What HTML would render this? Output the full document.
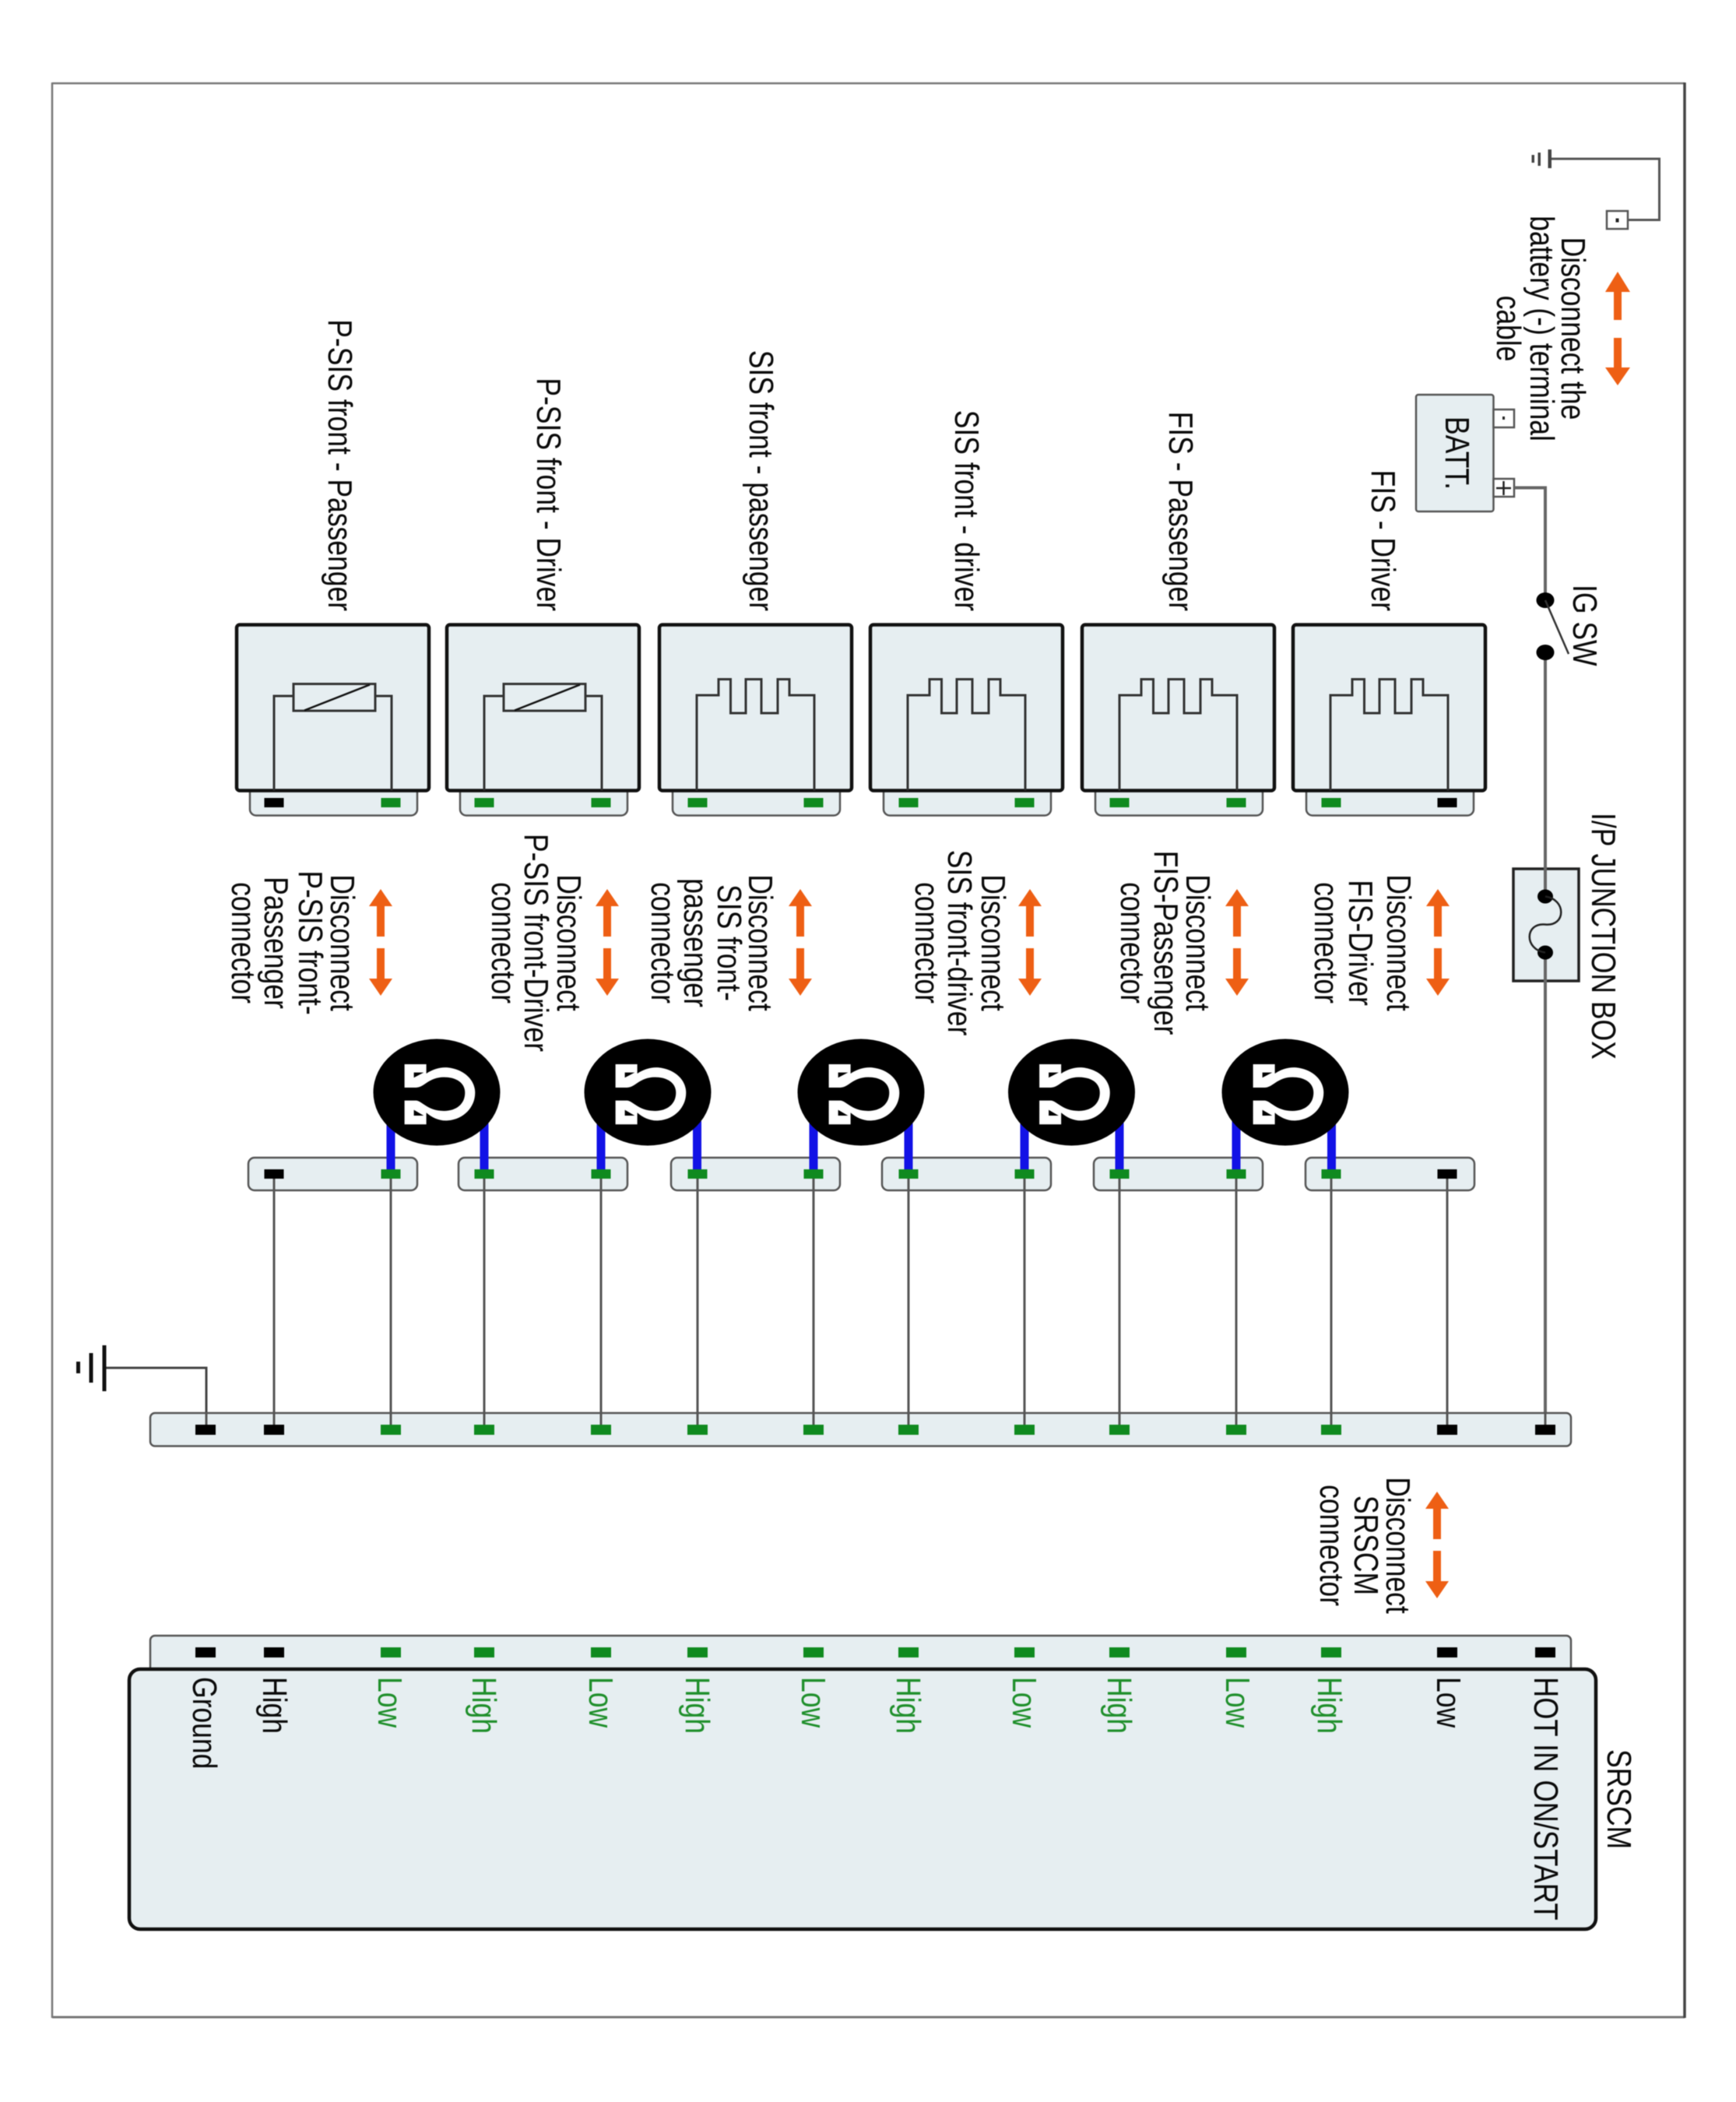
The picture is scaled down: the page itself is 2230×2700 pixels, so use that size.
<!DOCTYPE html>
<html>
<head>
<meta charset="utf-8">
<style>
html,body{margin:0;padding:0;background:#fff}
svg{display:block;filter:blur(.5px)}
text{font-family:"Liberation Sans",sans-serif;font-size:35.5px;fill:#0a0a0a}
.m{text-anchor:middle}
.e{text-anchor:end}
.g{fill:#1f8f2b}
.f{fill:#e6eef1}
.bar{fill:#e6eef1;stroke:#555;stroke-width:2.5}
.box{fill:#e6eef1;stroke:#111;stroke-width:4.5}
.w{fill:none;stroke:#555;stroke-width:3}
.d{fill:none;stroke:#333;stroke-width:3}
.pg{fill:#0f8a1f}
.pk{fill:#000}
.ar{fill:#ee5f14}
.bl{fill:#1212e6}
</style>
</head>
<body>
<svg xmlns="http://www.w3.org/2000/svg" width="2230" height="2700" viewBox="0 0 2230 2700">
<defs>
<g id="ar">
<polygon class="ar" points="0,0 15,22 5,22 5,61 -5,61 -5,22 -15,22"/>
<polygon class="ar" points="0,137 15,115 5,115 5,76 -5,76 -5,115 -15,115"/>
</g>
<path id="sq" class="d" d="M48 1015V893H76V872.5H91.5V916H111V872.5H131V916H152V872.5H167V893H199V1015"/>
<g id="rs">
<path class="d" d="M48 1015V894H73M178 894H199V1015"/>
<rect class="d" x="73" y="878.5" width="105" height="34.5"/>
<line x1="87" y1="912.5" x2="171" y2="879.5" stroke="#111" stroke-width="2.5"/>
</g>
<g id="om">
<ellipse cx="0" cy="0" rx="81.5" ry="68.5" fill="#000"/>
<g transform="translate(-90.7,-82.7) scale(.3333)">
<path fill="#fff" d="M148 140H232V176C258 158 290 150 315 153C377 160 420 200 420 250C420 305 377 352 315 357C285 360 255 347 232 327V372H148V280H192C215 280 235 320 300 320C348 320 381 293 381 250C381 212 348 190 300 190C240 190 225 230 192 230H148Z"/>
<path fill="#000" d="M184 172H222L184 192ZM184 338H222L184 316Z"/>
</g>
</g>
</defs>
<rect width="2230" height="2700" fill="#fff"/>

<!-- frame -->
<line x1="67" y1="107" x2="2164" y2="107" stroke="#777" stroke-width="2.5"/>
<line x1="67" y1="2591" x2="2164" y2="2591" stroke="#777" stroke-width="3"/>
<line x1="67" y1="106" x2="67" y2="2592" stroke="#777" stroke-width="2.5"/>
<line x1="2164" y1="106" x2="2164" y2="2592" stroke="#444" stroke-width="3.5"/>

<!-- top right ground -->
<path class="w" d="M1991 204H2131.5V282.5H2091"/>
<rect x="1988.5" y="192" width="4.5" height="24" fill="#444"/>
<rect x="1975.5" y="196" width="3.5" height="17" fill="#444"/>
<rect x="1967.5" y="199" width="3.5" height="10" fill="#444"/>
<rect x="2064" y="271" width="27" height="23" fill="#fff" stroke="#555" stroke-width="2.5"/>
<rect x="2075.5" y="280.5" width="4" height="5" fill="#222"/>

<!-- battery arrows -->
<polygon class="ar" points="2078,349 2094,375 2083,375 2083,411 2073,411 2073,375 2062,375"/>
<polygon class="ar" points="2078,495 2094,472 2083,472 2083,434 2073,434 2073,472 2062,472"/>
<text class="m" transform="translate(2006,422) rotate(90) scale(1,1.22)">Disconnect the</text>
<text class="m" transform="translate(1966,422) rotate(90) scale(1,1.22)">battery (-) terminal</text>
<text class="m" transform="translate(1923,422) rotate(90) scale(1,1.22)">cable</text>

<!-- battery -->
<rect x="1819" y="507" width="99.5" height="150" rx="3" class="bar"/>
<rect x="1918.5" y="526" width="26.5" height="23" fill="#fff" stroke="#555" stroke-width="2.5"/>
<rect x="1918.5" y="615" width="26.5" height="23" fill="#fff" stroke="#555" stroke-width="2.5"/>
<rect x="1930" y="535" width="3" height="4" fill="#222"/>
<path d="M1931.5 618V636M1922 627H1941" stroke="#222" stroke-width="2.5" fill="none"/>
<text class="m" transform="translate(1857,582) rotate(90) scale(1,1.22)">BATT.</text>

<!-- power line -->
<rect x="1944" y="1116" width="84" height="144" fill="#e6eef1" stroke="#222" stroke-width="3.5"/>
<path class="w" style="stroke:#666;stroke-width:4" d="M1945 626.5H1985V771M1985 838V1151.5M1985 1223.5V1836"/>
<ellipse cx="1985" cy="771" rx="11.5" ry="10" fill="#000"/>
<ellipse cx="1985" cy="838" rx="11.5" ry="10" fill="#000"/>
<line x1="1985" y1="771" x2="2015" y2="840" stroke="#333" stroke-width="2.5"/>
<ellipse cx="1985" cy="1151.5" rx="10" ry="9" fill="#000"/>
<ellipse cx="1985" cy="1223.5" rx="10" ry="9" fill="#000"/>
<path d="M1985 1151.5C2012 1155 2012 1190 1985 1187.5C1958 1185 1958 1220 1985 1223.5" fill="none" stroke="#222" stroke-width="2.5"/>
<text transform="translate(2021,751) rotate(90) scale(1,1.22)">IG SW</text>
<text transform="translate(2045,1044) rotate(90) scale(1,1.22)">I/P JUNCTION BOX</text>

<!-- top labels -->
<text class="e" transform="translate(422,785) rotate(90) scale(1,1.22)">P-SIS front - Passenger</text>
<text class="e" transform="translate(690,785) rotate(90) scale(1,1.22)">P-SIS front - Driver</text>
<text class="e" transform="translate(963,785) rotate(90) scale(1,1.22)">SIS front - passenger</text>
<text class="e" transform="translate(1227,785) rotate(90) scale(1,1.22)">SIS front - driver</text>
<text class="e" transform="translate(1502,785) rotate(90) scale(1,1.22)">FIS - Passenger</text>
<text class="e" transform="translate(1762,785) rotate(90) scale(1,1.22)">FIS - Driver</text>

<!-- top connector bars -->
<rect class="bar" x="321" y="990" width="215" height="57.5" rx="8"/>
<rect class="bar" x="591" y="990" width="215" height="57.5" rx="8"/>
<rect class="bar" x="864" y="990" width="215" height="57.5" rx="8"/>
<rect class="bar" x="1135" y="990" width="215" height="57.5" rx="8"/>
<rect class="bar" x="1407" y="990" width="215" height="57.5" rx="8"/>
<rect class="bar" x="1678" y="990" width="215" height="57.5" rx="8"/>

<!-- component boxes -->
<rect class="box" x="304" y="802.5" width="247" height="213" rx="4"/>
<rect class="box" x="574" y="802.5" width="247" height="213" rx="4"/>
<rect class="box" x="847" y="802.5" width="247" height="213" rx="4"/>
<rect class="box" x="1118" y="802.5" width="247" height="213" rx="4"/>
<rect class="box" x="1390" y="802.5" width="247" height="213" rx="4"/>
<rect class="box" x="1661" y="802.5" width="247" height="213" rx="4"/>
<use href="#rs" x="304"/>
<use href="#rs" x="574"/>
<use href="#sq" x="847"/>
<use href="#sq" x="1118"/>
<use href="#sq" x="1390"/>
<use href="#sq" x="1661"/>

<!-- pads in top bars -->
<rect class="pk" x="339.5" y="1025" width="25" height="12"/>
<rect class="pg" x="489.5" y="1025" width="25" height="12"/>
<rect class="pg" x="609.5" y="1025" width="25" height="12"/>
<rect class="pg" x="759.5" y="1025" width="25" height="12"/>
<rect class="pg" x="883.5" y="1025" width="25" height="12"/>
<rect class="pg" x="1032.5" y="1025" width="25" height="12"/>
<rect class="pg" x="1154.5" y="1025" width="25" height="12"/>
<rect class="pg" x="1303.5" y="1025" width="25" height="12"/>
<rect class="pg" x="1425.5" y="1025" width="25" height="12"/>
<rect class="pg" x="1575.5" y="1025" width="25" height="12"/>
<rect class="pg" x="1697.5" y="1025" width="25" height="12"/>
<rect class="pk" x="1846.5" y="1025" width="25" height="12"/>

<!-- disconnect arrows -->
<use href="#ar" x="489" y="1142"/>
<use href="#ar" x="780" y="1142"/>
<use href="#ar" x="1028" y="1142"/>
<use href="#ar" x="1323" y="1142"/>
<use href="#ar" x="1589" y="1142"/>
<use href="#ar" x="1847" y="1142"/>

<!-- disconnect texts -->
<text class="m" transform="translate(425,1211) rotate(90) scale(1,1.22)">Disconnect</text>
<text class="m" transform="translate(384,1211) rotate(90) scale(1,1.22)">P-SIS front-</text>
<text class="m" transform="translate(340,1211) rotate(90) scale(1,1.22)">Passenger</text>
<text class="m" transform="translate(298,1211) rotate(90) scale(1,1.22)">connector</text>

<text class="m" transform="translate(716,1211) rotate(90) scale(1,1.22)">Disconnect</text>
<text class="m" transform="translate(674,1211) rotate(90) scale(1,1.22)">P-SIS front-Driver</text>
<text class="m" transform="translate(632,1211) rotate(90) scale(1,1.22)">connector</text>

<text class="m" transform="translate(962,1211) rotate(90) scale(1,1.22)">Disconnect</text>
<text class="m" transform="translate(922,1211) rotate(90) scale(1,1.22)">SIS front-</text>
<text class="m" transform="translate(879,1211) rotate(90) scale(1,1.22)">passenger</text>
<text class="m" transform="translate(837,1211) rotate(90) scale(1,1.22)">connector</text>

<text class="m" transform="translate(1261,1211) rotate(90) scale(1,1.22)">Disconnect</text>
<text class="m" transform="translate(1218,1211) rotate(90) scale(1,1.22)">SIS front-driver</text>
<text class="m" transform="translate(1176,1211) rotate(90) scale(1,1.22)">connector</text>

<text class="m" transform="translate(1524,1211) rotate(90) scale(1,1.22)">Disconnect</text>
<text class="m" transform="translate(1483,1211) rotate(90) scale(1,1.22)">FIS-Passenger</text>
<text class="m" transform="translate(1440,1211) rotate(90) scale(1,1.22)">connector</text>

<text class="m" transform="translate(1782,1211) rotate(90) scale(1,1.22)">Disconnect</text>
<text class="m" transform="translate(1733,1211) rotate(90) scale(1,1.22)">FIS-Driver</text>
<text class="m" transform="translate(1689,1211) rotate(90) scale(1,1.22)">connector</text>

<!-- lower connector bars -->
<rect class="bar" x="319" y="1487" width="217" height="42" rx="8"/>
<rect class="bar" x="589" y="1487" width="217" height="42" rx="8"/>
<rect class="bar" x="862" y="1487" width="217" height="42" rx="8"/>
<rect class="bar" x="1133" y="1487" width="217" height="42" rx="8"/>
<rect class="bar" x="1405" y="1487" width="217" height="42" rx="8"/>
<rect class="bar" x="1677" y="1487" width="217" height="42" rx="8"/>

<!-- blue shorting lines -->
<rect class="bl" x="496.5" y="1440" width="11" height="64"/>
<rect class="bl" x="616.5" y="1440" width="11" height="64"/>
<rect class="bl" x="766.5" y="1440" width="11" height="64"/>
<rect class="bl" x="890" y="1440" width="11" height="64"/>
<rect class="bl" x="1039.5" y="1440" width="11" height="64"/>
<rect class="bl" x="1161.5" y="1440" width="11" height="64"/>
<rect class="bl" x="1310.5" y="1440" width="11" height="64"/>
<rect class="bl" x="1432.5" y="1440" width="11" height="64"/>
<rect class="bl" x="1582.5" y="1440" width="11" height="64"/>
<rect class="bl" x="1705" y="1440" width="11" height="64"/>

<!-- shorting clips -->
<use href="#om" x="561" y="1403"/>
<use href="#om" x="832" y="1403"/>
<use href="#om" x="1106" y="1403"/>
<use href="#om" x="1376.5" y="1403"/>
<use href="#om" x="1651" y="1403"/>

<!-- wires to bus -->
<path class="w" d="M352 1510V1836M502 1510V1836M622 1510V1836M772 1510V1836M896 1510V1836M1045 1510V1836M1167 1510V1836M1316 1510V1836M1438 1510V1836M1588 1510V1836M1710 1510V1836M1859 1510V1836"/>

<!-- pads in lower bars -->
<rect class="pk" x="339.5" y="1502" width="25" height="12"/>
<rect class="pg" x="489.5" y="1502" width="25" height="12"/>
<rect class="pg" x="609.5" y="1502" width="25" height="12"/>
<rect class="pg" x="759.5" y="1502" width="25" height="12"/>
<rect class="pg" x="883.5" y="1502" width="25" height="12"/>
<rect class="pg" x="1032.5" y="1502" width="25" height="12"/>
<rect class="pg" x="1154.5" y="1502" width="25" height="12"/>
<rect class="pg" x="1303.5" y="1502" width="25" height="12"/>
<rect class="pg" x="1425.5" y="1502" width="25" height="12"/>
<rect class="pg" x="1575.5" y="1502" width="25" height="12"/>
<rect class="pg" x="1697.5" y="1502" width="25" height="12"/>
<rect class="pk" x="1846.5" y="1502" width="25" height="12"/>

<!-- left ground -->
<path class="d" style="stroke:#444" d="M134 1757H265V1836"/>
<rect x="131.5" y="1728" width="5" height="59" fill="#111"/>
<rect x="114.5" y="1738" width="5" height="38" fill="#111"/>
<rect x="98" y="1749" width="5" height="15" fill="#111"/>

<!-- main bus -->
<rect class="bar" x="193" y="1815" width="1825" height="42.5" rx="6"/>
<path class="w" d="M265 1815V1832M352 1815V1832M502 1815V1832M622 1815V1832M772 1815V1832M896 1815V1832M1045 1815V1832M1167 1815V1832M1316 1815V1832M1438 1815V1832M1588 1815V1832M1710 1815V1832M1859 1815V1832M1985 1815V1832"/>
<rect class="pk" x="251" y="1830" width="26" height="13"/>
<rect class="pk" x="339" y="1830" width="26" height="13"/>
<rect class="pg" x="489" y="1830" width="26" height="13"/>
<rect class="pg" x="609" y="1830" width="26" height="13"/>
<rect class="pg" x="759" y="1830" width="26" height="13"/>
<rect class="pg" x="883" y="1830" width="26" height="13"/>
<rect class="pg" x="1032" y="1830" width="26" height="13"/>
<rect class="pg" x="1154" y="1830" width="26" height="13"/>
<rect class="pg" x="1303" y="1830" width="26" height="13"/>
<rect class="pg" x="1425" y="1830" width="26" height="13"/>
<rect class="pg" x="1575" y="1830" width="26" height="13"/>
<rect class="pg" x="1697" y="1830" width="26" height="13"/>
<rect class="pk" x="1846" y="1830" width="26" height="13"/>
<rect class="pk" x="1972" y="1830" width="26" height="13"/>

<!-- SRSCM disconnect -->
<use href="#ar" x="1846" y="1916"/>
<text class="m" transform="translate(1781,1985) rotate(90) scale(1,1.22)">Disconnect</text>
<text class="m" transform="translate(1740,1985) rotate(90) scale(1,1.22)">SRSCM</text>
<text class="m" transform="translate(1696,1985) rotate(90) scale(1,1.22)">connector</text>

<!-- SRSCM connector -->
<rect class="bar" x="193" y="2101" width="1825" height="60" rx="6"/>
<rect class="pk" x="251" y="2116" width="26" height="13"/>
<rect class="pk" x="339" y="2116" width="26" height="13"/>
<rect class="pg" x="489" y="2116" width="26" height="13"/>
<rect class="pg" x="609" y="2116" width="26" height="13"/>
<rect class="pg" x="759" y="2116" width="26" height="13"/>
<rect class="pg" x="883" y="2116" width="26" height="13"/>
<rect class="pg" x="1032" y="2116" width="26" height="13"/>
<rect class="pg" x="1154" y="2116" width="26" height="13"/>
<rect class="pg" x="1303" y="2116" width="26" height="13"/>
<rect class="pg" x="1425" y="2116" width="26" height="13"/>
<rect class="pg" x="1575" y="2116" width="26" height="13"/>
<rect class="pg" x="1697" y="2116" width="26" height="13"/>
<rect class="pk" x="1846" y="2116" width="26" height="13"/>
<rect class="pk" x="1972" y="2116" width="26" height="13"/>

<!-- SRSCM -->
<rect class="box" x="166" y="2144" width="1884" height="334" rx="14"/>
<text transform="translate(248,2154) rotate(90) scale(1,1.22)">Ground</text>
<text transform="translate(338,2154) rotate(90) scale(1,1.22)">High</text>
<text class="g" transform="translate(486,2154) rotate(90) scale(1,1.22)">Low</text>
<text class="g" transform="translate(607,2154) rotate(90) scale(1,1.22)">High</text>
<text class="g" transform="translate(757,2154) rotate(90) scale(1,1.22)">Low</text>
<text class="g" transform="translate(881,2154) rotate(90) scale(1,1.22)">High</text>
<text class="g" transform="translate(1030,2154) rotate(90) scale(1,1.22)">Low</text>
<text class="g" transform="translate(1152,2154) rotate(90) scale(1,1.22)">High</text>
<text class="g" transform="translate(1301,2154) rotate(90) scale(1,1.22)">Low</text>
<text class="g" transform="translate(1423,2154) rotate(90) scale(1,1.22)">High</text>
<text class="g" transform="translate(1575,2154) rotate(90) scale(1,1.22)">Low</text>
<text class="g" transform="translate(1693,2154) rotate(90) scale(1,1.22)">High</text>
<text transform="translate(1846,2154) rotate(90) scale(1,1.22)">Low</text>
<text style="font-size:36.3px" transform="translate(1971,2154) rotate(90) scale(1,1.2)">HOT IN ON/START</text>
<text transform="translate(2065,2247) rotate(90) scale(1,1.22)">SRSCM</text>
</svg>
</body>
</html>
